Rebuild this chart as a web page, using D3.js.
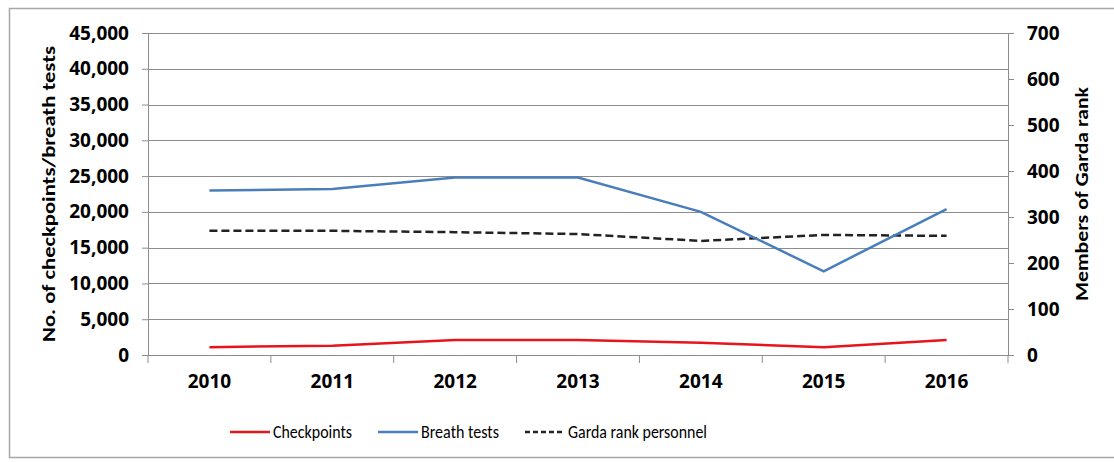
<!DOCTYPE html>
<html>
<head>
<meta charset="utf-8">
<script src="https://cdn.jsdelivr.net/npm/d3@7"></script>
<style>
  body { margin: 0; background: #fff; }
  text { font-family: Calibri, Carlito, Lato, "Open Sans", sans-serif; fill: #000; }
</style>
</head>
<body>
<div id="wrapper"></div>
<script>
// data
const years = ["2010", "2011", "2012", "2013", "2014", "2015", "2016"]
const checkpoints = [1100, 1300, 2100, 2100, 1700, 1100, 2100]
const breathTests = [23000, 23200, 24800, 24800, 20000, 11700, 20400]
const gardaRank = [270, 270, 267, 263, 248, 261, 259]
const leftTicks = [0, 5000, 10000, 15000, 20000, 25000, 30000, 35000, 40000, 45000]
const rightTicks = [0, 100, 200, 300, 400, 500, 600, 700]

function drawChart() {
  const dimensions = {
    width: 1114,
    height: 462,
    margin: { top: 33, right: 106, bottom: 107, left: 148 },
  }
  dimensions.boundedWidth = dimensions.width - dimensions.margin.left - dimensions.margin.right
  dimensions.boundedHeight = dimensions.height - dimensions.margin.top - dimensions.margin.bottom

  const wrapper = d3.select("#wrapper")
    .append("svg")
      .attr("width", dimensions.width)
      .attr("height", dimensions.height)

  // outer frame (right side runs off the picture)
  wrapper.append("rect")
    .attr("x", 9.5).attr("y", 8.5)
    .attr("width", 1115).attr("height", 449)
    .attr("fill", "none")
    .attr("stroke", "#a6a6a6")
    .attr("stroke-width", 1.5)

  const bounds = wrapper.append("g")
    .attr("transform", `translate(${dimensions.margin.left}, ${dimensions.margin.top})`)

  // scales
  const xScale = d3.scaleBand()
    .domain(years)
    .range([0, dimensions.boundedWidth])

  const yScale = d3.scaleLinear()
    .domain([0, 45000])
    .range([dimensions.boundedHeight, 0])

  const y2Scale = d3.scaleLinear()
    .domain([0, 700])
    .range([dimensions.boundedHeight, 0])

  const xCenter = (d, i) => xScale(years[i]) + xScale.bandwidth() / 2

  // gridlines
  bounds.append("g")
    .selectAll("line")
    .data(leftTicks.slice(1))
    .join("line")
      .attr("x1", 0)
      .attr("x2", dimensions.boundedWidth)
      .attr("y1", d => Math.round(yScale(d)) + 0.5)
      .attr("y2", d => Math.round(yScale(d)) + 0.5)
      .attr("stroke", "#8c8c8c")
      .attr("stroke-width", 1)

  // axes
  const yAxis = bounds.append("g")
    .call(d3.axisLeft(yScale)
      .tickValues(leftTicks)
      .tickSize(6)
      .tickPadding(13)
      .tickFormat(d3.format(",")))
  const y2Axis = bounds.append("g")
    .attr("transform", `translate(${dimensions.boundedWidth}, 0)`)
    .call(d3.axisRight(y2Scale)
      .tickValues(rightTicks)
      .tickSize(6)
      .tickPadding(13))
  const xAxis = bounds.append("g")
    .attr("transform", `translate(0, ${dimensions.boundedHeight})`)
    .call(d3.axisBottom(xScale).tickSize(0).tickPadding(20))

  // category boundary ticks on the x axis
  xAxis.append("g")
    .selectAll("line")
    .data(years.concat(["end"]))
    .join("line")
      .attr("x1", (d, i) => i < years.length ? xScale(d) : dimensions.boundedWidth)
      .attr("x2", (d, i) => i < years.length ? xScale(d) : dimensions.boundedWidth)
      .attr("y1", 0)
      .attr("y2", 8)
      .attr("stroke", "#8c8c8c")

  ;[yAxis, y2Axis, xAxis].forEach(axis => {
    axis.selectAll(".domain, .tick line").attr("stroke", "#8c8c8c")
    axis.selectAll("text")
      .attr("font-size", 19)
      .attr("font-weight", "bold")
      .style("font-family", '"Open Sans", "Noto Sans", sans-serif')
  })
  xAxis.select(".domain").attr("d", `M0,0.5H${dimensions.boundedWidth}`)

  // axis titles
  wrapper.append("text")
    .attr("transform", `translate(49, 194) rotate(-90)`)
    .attr("text-anchor", "middle")
    .attr("dy", "0.35em")
    .attr("font-size", 18)
    .attr("font-weight", "bold")
    .attr("textLength", 296)
    .attr("lengthAdjust", "spacingAndGlyphs")
    .text("No. of checkpoints/breath tests")

  wrapper.append("text")
    .attr("transform", `translate(1082, 194) rotate(-90)`)
    .attr("text-anchor", "middle")
    .attr("dy", "0.35em")
    .attr("font-size", 18)
    .attr("font-weight", "bold")
    .attr("textLength", 214)
    .attr("lengthAdjust", "spacingAndGlyphs")
    .text("Members of Garda rank")

  // lines
  const lineLeft = d3.line()
    .x(xCenter)
    .y(d => yScale(d))
  const lineRight = d3.line()
    .x(xCenter)
    .y(d => y2Scale(d))

  bounds.append("path")
    .attr("d", lineRight(gardaRank))
    .attr("fill", "none")
    .attr("stroke", "#222")
    .attr("stroke-width", 2.5)
    .attr("stroke-dasharray", "8 4")

  bounds.append("path")
    .attr("d", lineLeft(breathTests))
    .attr("fill", "none")
    .attr("stroke", "#4a7ebb")
    .attr("stroke-width", 2.5)

  bounds.append("path")
    .attr("d", lineLeft(checkpoints))
    .attr("fill", "none")
    .attr("stroke", "#e8141b")
    .attr("stroke-width", 2.5)

  // legend (condensed text, like the original)
  const legendItems = [
    { label: "Checkpoints", color: "#e8141b", dash: null, x: 230, w: 79 },
    { label: "Breath tests", color: "#4a7ebb", dash: null, x: 378, w: 78 },
    { label: "Garda rank personnel", color: "#222", dash: "5 3", x: 525, w: 139 },
  ]
  const legend = wrapper.append("g")
  const item = legend.selectAll("g")
    .data(legendItems)
    .join("g")
      .attr("transform", d => `translate(${d.x}, 432)`)
  item.append("line")
    .attr("x1", 0).attr("x2", 40)
    .attr("stroke", d => d.color)
    .attr("stroke-width", 2.5)
    .attr("stroke-dasharray", d => d.dash)
  item.append("text")
    .attr("x", 43)
    .attr("dy", "0.35em")
    .attr("font-size", 18)
    .attr("textLength", d => d.w)
    .attr("lengthAdjust", "spacingAndGlyphs")
    .text(d => d.label)
}

drawChart()
</script>
</body>
</html>
